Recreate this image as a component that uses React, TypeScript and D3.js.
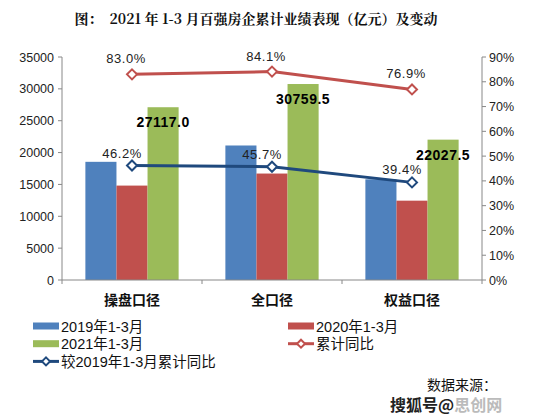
import React from "react";
import * as d3 from "d3";

// Categories and series
const categories = ["操盘口径", "全口径", "权益口径"];
const series2019 = [18548, 21111, 15802];
const series2020 = [14818, 16708, 12452];
const series2021 = [27117.0, 30759.5, 22027.5];
const yoy = [83.0, 84.1, 76.9];
const vs2019 = [46.2, 45.7, 39.4];

const leftTicks = [0, 5000, 10000, 15000, 20000, 25000, 30000, 35000];
const rightTicks = [0, 10, 20, 30, 40, 50, 60, 70, 80, 90];

const barSeries = [
  { name: "2019年1-3月", values: series2019, color: "#4F81BD" },
  { name: "2020年1-3月", values: series2020, color: "#C0504D" },
  { name: "2021年1-3月", values: series2021, color: "#9BBB59" },
];

const W = 542;
const H = 415;
const plot = { left: 62, right: 482, top: 57, bottom: 280 };
const SANS = "Liberation Sans, Arial, sans-serif";
const CJK = "'Noto Sans CJK SC', sans-serif";
const MIXED = "'Liberation Sans', 'Noto Sans CJK SC', sans-serif";

function diamond(cx: number, cy: number, r: number) {
  return `M${cx},${cy - r}L${cx + r},${cy}L${cx},${cy + r}L${cx - r},${cy}Z`;
}

export default function App() {
  const x = d3
    .scaleBand<string>()
    .domain(categories)
    .range([plot.left, plot.right]);
  const yL = d3.scaleLinear().domain([0, 35000]).range([plot.bottom, plot.top]);
  const yR = d3.scaleLinear().domain([0, 90]).range([plot.bottom, plot.top]);
  const barW = x.bandwidth() * 0.222;

  const cx = (c: string) => (x(c) as number) + x.bandwidth() / 2;
  const lineGen = d3
    .line<number>()
    .x((_, i) => cx(categories[i]))
    .y((d) => yR(d));

  const tickEdges = categories.map((c) => x(c) as number).concat([plot.right]);

  return (
    <svg
      width={W}
      height={H}
      style={{ position: "absolute", left: 0, top: 0, background: "#fff" }}
    >
      <rect width={W} height={H} fill="#fff" />
      <text
        x={256}
        y={24}
        textAnchor="middle"
        fontFamily="'Noto Serif CJK SC', 'Noto Sans CJK SC', serif"
        fontWeight="bold"
        fontSize={14}
        fill="#111"
        style={{ whiteSpace: "pre" }}
      >
        {"图：  2021 年 1-3 月百强房企累计业绩表现（亿元）及变动"}
      </text>

      {/* bars */}
      {barSeries.map((s, si) => (
        <g key={s.name}>
          {categories.map((c, i) => (
            <rect
              key={c}
              x={cx(c) - 1.5 * barW + si * barW}
              y={yL(s.values[i])}
              width={barW}
              height={plot.bottom - yL(s.values[i])}
              fill={s.color}
            />
          ))}
        </g>
      ))}

      {/* left axis */}
      <line x1={plot.left} x2={plot.left} y1={plot.top} y2={plot.bottom} stroke="#888" />
      {leftTicks.map((t) => (
        <g key={t}>
          <line x1={plot.left - 4} x2={plot.left} y1={yL(t)} y2={yL(t)} stroke="#888" />
          <text
            x={plot.left - 8}
            y={yL(t) + 4.5}
            textAnchor="end"
            fontFamily={SANS}
            fontSize={12.5}
            fill="#222"
          >
            {t}
          </text>
        </g>
      ))}

      {/* right axis */}
      <line x1={plot.right} x2={plot.right} y1={plot.top} y2={plot.bottom} stroke="#888" />
      {rightTicks.map((t) => (
        <g key={t}>
          <line x1={plot.right} x2={plot.right + 4} y1={yR(t)} y2={yR(t)} stroke="#888" />
          <text
            x={plot.right + 7}
            y={yR(t) + 4.5}
            textAnchor="start"
            fontFamily={SANS}
            fontSize={12.5}
            fill="#222"
          >
            {t}%
          </text>
        </g>
      ))}

      {/* x axis */}
      <line x1={plot.left} x2={plot.right} y1={plot.bottom} y2={plot.bottom} stroke="#888" />
      {tickEdges.map((e, i) => (
        <line key={i} x1={e} x2={e} y1={plot.bottom} y2={plot.bottom + 4} stroke="#888" />
      ))}
      {categories.map((c) => (
        <text
          key={c}
          x={cx(c)}
          y={plot.bottom + 25}
          textAnchor="middle"
          fontFamily={CJK}
          fontWeight="bold"
          fontSize={14}
          fill="#111"
        >
          {c}
        </text>
      ))}

      {/* 2021 value labels */}
      {categories.map((c, i) => (
        <text
          key={c}
          x={cx(c) + barW}
          y={yL(series2021[i]) + 20}
          textAnchor="middle"
          fontFamily={SANS}
          fontWeight="bold"
          fontSize={14}
          letterSpacing={0.5}
          fill="#000"
        >
          {series2021[i].toFixed(1)}
        </text>
      ))}

      {/* lines */}
      <path d={lineGen(yoy) || ""} fill="none" stroke="#C0504D" strokeWidth={3} />
      <path d={lineGen(vs2019) || ""} fill="none" stroke="#1F497D" strokeWidth={3} />
      {categories.map((c, i) => (
        <g key={c}>
          <path d={diamond(cx(c), yR(yoy[i]), 5)} fill="#fff" stroke="#C0504D" strokeWidth={2} />
          <path d={diamond(cx(c), yR(vs2019[i]), 5)} fill="#fff" stroke="#1F497D" strokeWidth={2} />
          <text
            x={cx(c) - 6}
            y={yR(yoy[i]) - 11}
            textAnchor="middle"
            fontFamily={SANS}
            fontSize={13}
            letterSpacing={0.5}
            fill="#222"
          >
            {yoy[i].toFixed(1)}%
          </text>
          <text
            x={cx(c) - 10}
            y={yR(vs2019[i]) - 8}
            textAnchor="middle"
            fontFamily={SANS}
            fontSize={13}
            letterSpacing={0.5}
            fill="#222"
          >
            {vs2019[i].toFixed(1)}%
          </text>
        </g>
      ))}

      {/* legend */}
      {[
        { name: barSeries[0].name, color: barSeries[0].color, kind: "bar", col: 0, row: 0 },
        { name: barSeries[1].name, color: barSeries[1].color, kind: "bar", col: 1, row: 0 },
        { name: barSeries[2].name, color: barSeries[2].color, kind: "bar", col: 0, row: 1 },
        { name: "累计同比", color: "#C0504D", kind: "line", col: 1, row: 1 },
        { name: "较2019年1-3月累计同比", color: "#1F497D", kind: "line", col: 0, row: 2 },
      ].map((it) => {
        const lx = it.col === 0 ? 33 : 288;
        const ly = 326 + it.row * 17.7;
        return (
          <g key={it.name}>
            {it.kind === "bar" ? (
              <rect x={lx} y={ly - 3.5} width={26} height={7} fill={it.color} />
            ) : (
              <g>
                <line x1={lx} x2={lx + 26} y1={ly} y2={ly} stroke={it.color} strokeWidth={3} />
                <path d={diamond(lx + 13, ly, 4)} fill="#fff" stroke={it.color} strokeWidth={2} />
              </g>
            )}
            <text
              x={lx + 28}
              y={ly + 5.5}
              fontFamily={MIXED}
              fontSize={14.5}
              fill="#111"
            >
              {it.name}
            </text>
          </g>
        );
      })}

      {/* source note and stamp */}
      <text x={427} y={390} fontFamily={CJK} fontSize={14} fill="#111">
        数据来源：
      </text>
      <text x={390} y={411} fontFamily={CJK} fontSize={16} fontWeight="bold">
        <tspan fill="#222">搜狐号@</tspan>
        <tspan fill="#bbb">思创网</tspan>
      </text>
    </svg>
  );
}
